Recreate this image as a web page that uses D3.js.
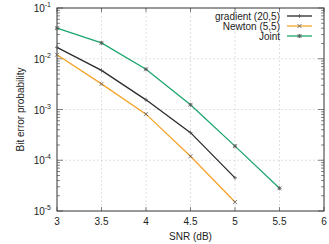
<!DOCTYPE html>
<html>
<head>
<meta charset="utf-8">
<script src="https://cdn.jsdelivr.net/npm/d3@7"></script>
<style>
  body { margin: 0; background: #fff; }
  text { font-family: "Liberation Sans", Arial, sans-serif; fill: #222; }
</style>
</head>
<body>
<div id="chart"></div>
<script>
// SNR points and bit error probabilities
const snr = [3, 3.5, 4, 4.5, 5, 5.5];
const gradientBer = [0.0168, 0.0059, 0.00155, 0.00035, 0.000045];
const newtonBer = [0.012, 0.0032, 0.00081, 0.00012, 0.000015];
const jointBer = [0.040, 0.0205, 0.0062, 0.00124, 0.00019, 0.000028];
const seriesNames = ["gradient (20,5)", "Newton (5,5)", "Joint"];
const xTicks = [3, 3.5, 4, 4.5, 5, 5.5, 6];
const yExponents = [-1, -2, -3, -4, -5];

const width = 329, height = 244;
const margin = { top: 8, right: 5, bottom: 33, left: 57 };
const w = width - margin.left - margin.right;
const h = height - margin.top - margin.bottom;

const svg = d3.select("#chart").append("svg")
    .attr("width", width)
    .attr("height", height);

const g = svg.append("g")
    .attr("transform", `translate(${margin.left},${margin.top})`);

const x = d3.scaleLinear().domain([3, 6]).range([0, w]);
const y = d3.scaleLog().domain([1e-5, 1e-1]).range([h, 0]);

// grid
g.selectAll(".gx").data(xTicks.slice(1, -1)).enter().append("line")
    .attr("x1", d => x(d)).attr("x2", d => x(d))
    .attr("y1", 0).attr("y2", h)
    .attr("stroke", "#ccc").attr("stroke-width", 0.6)
    .attr("stroke-dasharray", "2,2");
g.selectAll(".gy").data(yExponents.slice(1, -1)).enter().append("line")
    .attr("x1", 0).attr("x2", w)
    .attr("y1", d => y(Math.pow(10, d))).attr("y2", d => y(Math.pow(10, d)))
    .attr("stroke", "#ccc").attr("stroke-width", 0.6)
    .attr("stroke-dasharray", "2,2");

// minor log ticks on left and right
const minor = [];
for (let e = -5; e < -1; e++) for (let m = 2; m <= 9; m++) minor.push(m * Math.pow(10, e));
[[0, 3], [w, -3]].forEach(([x0, dx]) => {
  g.selectAll(null).data(minor).enter().append("line")
      .attr("x1", x0).attr("x2", x0 + dx)
      .attr("y1", d => y(d)).attr("y2", d => y(d))
      .attr("stroke", "#333").attr("stroke-width", 0.6);
  g.selectAll(null).data(yExponents).enter().append("line")
      .attr("x1", x0).attr("x2", x0 + dx * 2)
      .attr("y1", d => y(Math.pow(10, d))).attr("y2", d => y(Math.pow(10, d)))
      .attr("stroke", "#333").attr("stroke-width", 0.6);
});
[[h, -4], [0, 4]].forEach(([y0, dy]) => {
  g.selectAll(null).data(xTicks).enter().append("line")
      .attr("x1", d => x(d)).attr("x2", d => x(d))
      .attr("y1", y0).attr("y2", y0 + dy)
      .attr("stroke", "#333").attr("stroke-width", 0.6);
});

// frame
g.append("rect").attr("width", w).attr("height", h)
    .attr("fill", "none").attr("stroke", "#333").attr("stroke-width", 1);

// x tick labels
g.selectAll(".xl").data(xTicks).enter().append("text")
    .attr("x", d => x(d)).attr("y", h + 14)
    .attr("text-anchor", "middle").attr("font-size", 10)
    .text(d => d);

// y tick labels 10^n
const yl = g.selectAll(".yl").data(yExponents).enter().append("text")
    .attr("x", -6).attr("y", d => y(Math.pow(10, d)) + 4)
    .attr("text-anchor", "end").attr("font-size", 10);
yl.append("tspan").text("10");
yl.append("tspan").attr("dy", -5).attr("font-size", 7).text(d => "-" + Math.abs(d));

// axis titles
svg.append("text")
    .attr("x", margin.left + w / 2).attr("y", height - 4)
    .attr("text-anchor", "middle").attr("font-size", 10)
    .text("SNR (dB)");
svg.append("text")
    .attr("transform", `translate(24,${margin.top + h / 2}) rotate(-90)`)
    .attr("text-anchor", "middle").attr("font-size", 10)
    .text("Bit error probability");

// series
const series = [
  { name: seriesNames[0], values: gradientBer, color: "#2b2b2b", marker: "plus" },
  { name: seriesNames[1], values: newtonBer, color: "#f5a42a", marker: "cross" },
  { name: seriesNames[2], values: jointBer, color: "#1ca56c", marker: "star" }
];

const line = d3.line().x(d => x(d[0])).y(d => y(d[1]));

function drawMarker(sel, kind, color) {
  const s = 2;
  const p = d3.path();
  if (kind === "plus" || kind === "star") {
    p.moveTo(-s, 0); p.lineTo(s, 0); p.moveTo(0, -s); p.lineTo(0, s);
  }
  if (kind === "cross" || kind === "star") {
    p.moveTo(-s, -s); p.lineTo(s, s); p.moveTo(-s, s); p.lineTo(s, -s);
  }
  sel.append("path").attr("d", p.toString())
      .attr("stroke", color).attr("stroke-width", 0.8).attr("fill", "none");
}

series.forEach(s => {
  const pts = s.values.map((v, i) => [snr[i], v]);
  g.append("path").datum(pts)
      .attr("d", line)
      .attr("fill", "none").attr("stroke", s.color).attr("stroke-width", 1.3);
  pts.forEach(p => {
    const m = g.append("g").attr("transform", `translate(${x(p[0])},${y(p[1])})`);
    drawMarker(m, s.marker, "#555");
  });
});

// legend
const legend = g.append("g");
series.forEach((s, i) => {
  const ly = 8 + i * 10;
  legend.append("text")
      .attr("x", 223).attr("y", ly + 3.5)
      .attr("text-anchor", "end").attr("font-size", 10)
      .text(s.name);
  legend.append("line")
      .attr("x1", 230).attr("x2", 255)
      .attr("y1", ly).attr("y2", ly)
      .attr("stroke", s.color).attr("stroke-width", 1.3);
  const m = legend.append("g").attr("transform", `translate(242.5,${ly})`);
  drawMarker(m, s.marker, "#555");
});
</script>
</body>
</html>
